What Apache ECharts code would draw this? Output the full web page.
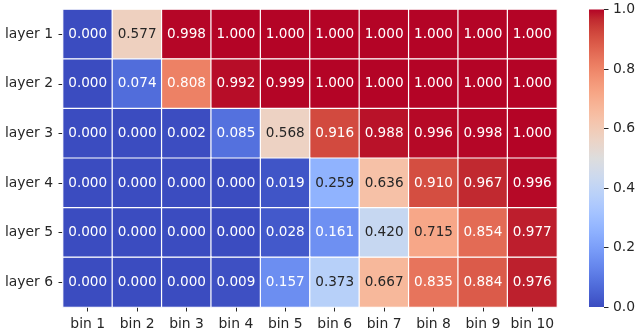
<!DOCTYPE html>
<html>
<head>
<meta charset="utf-8">
<script src="https://cdn.jsdelivr.net/npm/echarts@6/dist/echarts.min.js"></script>
<style>html,body{margin:0;padding:0;background:#fff;}#c{width:640px;height:333px;}</style>
</head>
<body>
<div id="c"></div>
<script>
var bins = ['bin 1','bin 2','bin 3','bin 4','bin 5','bin 6','bin 7','bin 8','bin 9','bin 10'];
var layers = ['layer 1','layer 2','layer 3','layer 4','layer 5','layer 6'];
var layer1 = [0.000,0.577,0.998,1.000,1.000,1.000,1.000,1.000,1.000,1.000];
var layer2 = [0.000,0.074,0.808,0.992,0.999,1.000,1.000,1.000,1.000,1.000];
var layer3 = [0.000,0.000,0.002,0.085,0.568,0.916,0.988,0.996,0.998,1.000];
var layer4 = [0.000,0.000,0.000,0.000,0.019,0.259,0.636,0.910,0.967,0.996];
var layer5 = [0.000,0.000,0.000,0.000,0.028,0.161,0.420,0.715,0.854,0.977];
var layer6 = [0.000,0.000,0.000,0.009,0.157,0.373,0.667,0.835,0.884,0.976];
var colorbarTicks = [0.0,0.2,0.4,0.6,0.8,1.0];

var rows = [layer1,layer2,layer3,layer4,layer5,layer6];
// coolwarm colormap (Moreland), 33 evenly spaced stops
var cw = [[59,76,192],[68,90,204],[77,104,215],[87,117,225],[98,130,234],[108,142,241],[119,154,247],[130,165,251],[141,176,254],[152,185,255],[163,194,255],[174,201,253],[184,208,249],[194,213,244],[204,217,238],[213,219,230],[221,221,221],[229,216,209],[236,211,197],[241,204,184],[245,196,172],[247,187,159],[247,177,147],[247,166,134],[244,154,123],[241,141,111],[236,127,99],[229,112,89],[222,96,77],[213,80,66],[203,62,56],[192,40,47],[180,4,38]];
function rgbStr(c){return 'rgb('+c.map(Math.round).join(',')+')';}
function cmap(v){
  var t = Math.max(0,Math.min(1,v))*(cw.length-1);
  var i = Math.min(Math.floor(t), cw.length-2), f = t-i;
  return [0,1,2].map(function(k){return cw[i][k]+(cw[i+1][k]-cw[i][k])*f;});
}
function lum(c){
  var w=[.2126,.7152,.0722], s=0;
  for(var k=0;k<3;k++){var x=c[k]/255; x = x<=.03928? x/12.92 : Math.pow((x+.055)/1.055,2.4); s+=x*w[k];}
  return s;
}
var data = [];
rows.forEach(function(r, yi){
  r.forEach(function(v, xi){
    data.push({value:[xi, yi, v], itemStyle:{color:rgbStr(cmap(v))},
      label:{color: lum(cmap(v))>0.408 ? '#262626' : '#ffffff'}});
  });
});
var stops = cw.map(function(c,i){return {offset:1-i/(cw.length-1), color:rgbStr(c)};});

var chart = echarts.init(document.getElementById('c'), null, {renderer:'canvas'});
var txt = {color:'#262626', fontFamily:'DejaVu Sans', fontSize:13.9};
chart.setOption({
  animation:false,
  backgroundColor:'#fff',
  grid:[
    {left:63, right:83, top:9.5, bottom:26},
    {left:589, width:15, top:9.5, bottom:26}
  ],
  xAxis:[
    {type:'category', data:bins, gridIndex:0, axisLine:{show:false},
     axisTick:{show:true, alignWithLabel:true, interval:0, length:4.5, lineStyle:{color:'#262626', width:1}},
     axisLabel:Object.assign({margin:10, interval:0}, txt), splitLine:{show:false}},
    {type:'category', data:['cb'], gridIndex:1, show:false}
  ],
  yAxis:[
    {type:'category', data:layers, inverse:true, gridIndex:0, axisLine:{show:false},
     axisTick:{show:true, alignWithLabel:true, interval:0, length:4.5, lineStyle:{color:'#262626', width:1}},
     axisLabel:Object.assign({margin:10, interval:0}, txt), splitLine:{show:false}},
    {type:'value', gridIndex:1, min:0, max:1, interval:0.2, position:'right',
     axisLine:{show:false}, splitLine:{show:false},
     axisTick:{show:true, length:4.5, lineStyle:{color:'#262626', width:1}},
     axisLabel:Object.assign({margin:9, formatter:function(v){return v.toFixed(1);}}, txt)}
  ],
  series:[
    {type:'heatmap', xAxisIndex:0, yAxisIndex:0, data:data,
     itemStyle:{borderColor:'#ffffff', borderWidth:1.2},
     label:{show:true, fontFamily:'DejaVu Sans', fontSize:13.6, formatter:function(p){return p.value[2].toFixed(3);}},
     emphasis:{disabled:true}},
    {type:'bar', xAxisIndex:1, yAxisIndex:1, data:[1], barWidth:'100%', silent:true,
     itemStyle:{color:new echarts.graphic.LinearGradient(0,0,0,1,stops)}}
  ]
});
</script>
</body>
</html>
